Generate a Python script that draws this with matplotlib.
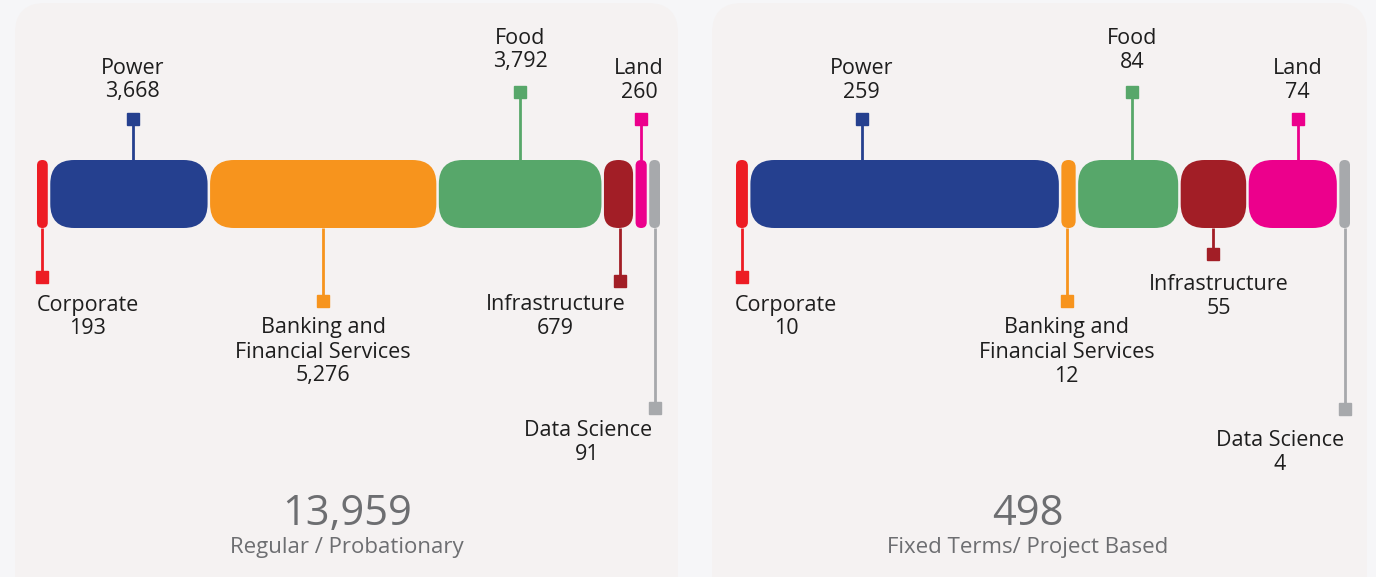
import matplotlib.pyplot as plt
from matplotlib.patches import FancyBboxPatch

plt.rcParams['font.family'] = ['Open Sans', 'DejaVu Sans']

# data
categories = ['Corporate', 'Power', 'Banking and\nFinancial Services', 'Food',
              'Infrastructure', 'Land', 'Data Science']
regular_values = [193, 3668, 5276, 3792, 679, 260, 91]
fixed_values = [10, 259, 12, 84, 55, 74, 4]
subtitles = ['Regular / Probationary', 'Fixed Terms/ Project Based']
colors = ['#ed1c24', '#25408f', '#f7941d', '#57a76a', '#a21e26', '#ec008c', '#a7a9ac']

W, H = 1376, 577
BAR_TOP, BAR_H = 160, 68
GAP = 2.5
LINE_H = 24

# layout per panel (pixels)
panels = [
    dict(values=regular_values, x0=37, x1=660, cx=347, sub=subtitles[0],
         mx=[0, 4, 0, 0, 1, 0, 0],
         dx=[45, 0, 0, 0, -64, -2, -67],
         my=[277, 119, 301, 92, 281, 119, 408],
         ty=[305, 68, 328, 38, 305, 68, 430]),
    dict(values=fixed_values, x0=736, x1=1350, cx=1028, sub=subtitles[1],
         mx=[0, -43, -2, 4, 0, 5, 0],
         dx=[44, 0, 0, 0, 5, 0, -65],
         my=[277, 119, 301, 92, 254, 119, 409],
         ty=[305, 68, 328, 38, 284, 68, 441]),
]

fig = plt.figure(figsize=(W / 100, H / 100), dpi=100)
fig.patch.set_facecolor('#f6f6f8')

bg = fig.add_axes([0, 0, 1, 1])
bg.set_xlim(0, W)
bg.set_ylim(H, 0)
bg.axis('off')
for x0, x1 in [(15, 678), (712, 1367)]:
    bg.add_patch(FancyBboxPatch((x0, 3), x1 - x0, 640,
                                boxstyle='round,pad=0,rounding_size=30',
                                fc='#f5f2f2', ec='none'))

for p in panels:
    vals = p['values']
    total = sum(vals)
    widths = [max(v, 0.018 * total) for v in vals]
    span_px = p['x1'] - p['x0']
    scale = (span_px - GAP * (len(vals) - 1)) / sum(widths)  # px per unit
    gap_u = GAP / scale

    ax = fig.add_axes([p['x0'] / W, 0, span_px / W, 1])
    ax.set_xlim(0, sum(widths) + gap_u * (len(vals) - 1))
    ax.set_ylim(H, 0)
    ax.axis('off')

    left = 0
    for i, (name, v, w, c) in enumerate(zip(categories, vals, widths, colors)):
        r_px = min(24, w * scale / 2)
        ax.add_patch(FancyBboxPatch((left, BAR_TOP), w, BAR_H,
                                    boxstyle=f'round,pad=0,rounding_size={r_px / scale}',
                                    mutation_aspect=scale, fc=c, ec='none', clip_on=False))
        cx = left + w / 2 + p['mx'][i] / scale
        my = p['my'][i]
        edge = BAR_TOP if my < BAR_TOP else BAR_TOP + BAR_H
        ax.plot([cx, cx], [edge, my], color=c, lw=2, clip_on=False, solid_capstyle='butt')
        ax.plot(cx, my, marker='s', ms=8, color=c, clip_on=False)
        lines = name.split('\n') + [f'{v:,}']
        for j, t in enumerate(lines):
            ax.annotate(t, xy=(cx, p['ty'][i] + j * LINE_H), xytext=(p['dx'][i] * 0.72, 0),
                        textcoords='offset points', ha='center', va='center',
                        fontsize=15.5, color='#1e1e1e', annotation_clip=False)
        left += w + gap_u

    bg.text(p['cx'], 514, f'{total:,}', ha='center', va='center', fontsize=30, color='#6d6e71')
    bg.text(p['cx'], 547, p['sub'], ha='center', va='center', fontsize=16, color='#6d6e71')

fig.savefig('out.png', dpi=100, facecolor=fig.get_facecolor())
